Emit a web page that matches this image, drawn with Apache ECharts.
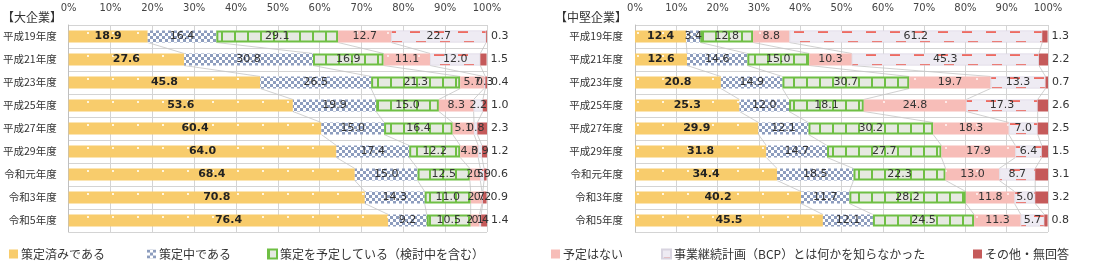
<!DOCTYPE html>
<html><head><meta charset="utf-8">
<script src="https://cdn.jsdelivr.net/npm/echarts@6/dist/echarts.min.js"></script>
<style>html,body{margin:0;padding:0;background:#fff}#c{width:1096px;height:267px}</style>
</head><body><div id="c"></div>
<script>
const categories = ['平成19年度','平成21年度','平成23年度','平成25年度','平成27年度','平成29年度','令和元年度','令和3年度','令和5年度'];
const seriesNames = ['策定済みである','策定中である','策定を予定している（検討中を含む）','予定はない','事業継続計画（BCP）とは何かを知らなかった','その他・無回答'];
const xTicks = [0,10,20,30,40,50,60,70,80,90,100];

// 大企業
const largeDone       = [18.9, 27.6, 45.8, 53.6, 60.4, 64.0, 68.4, 70.8, 76.4];
const largeInProgress = [16.4, 30.8, 26.5, 19.9, 15.0, 17.4, 15.0, 14.3, 9.2];
const largePlanned    = [29.1, 16.9, 21.3, 15.0, 16.4, 12.2, 12.5, 11.0, 10.5];
const largeNone       = [12.7, 11.1, 5.7, 8.3, 5.1, 4.3, 2.5, 2.7, 2.1];
const largeUnknown    = [22.7, 12.0, 0.3, 2.2, 0.8, 0.9, 0.9, 0.2, 0.4];
const largeOther      = [0.3, 1.5, 0.4, 1.0, 2.3, 1.2, 0.6, 0.9, 1.4];

// 中堅企業
const midDone       = [12.4, 12.6, 20.8, 25.3, 29.9, 31.8, 34.4, 40.2, 45.5];
const midInProgress = [3.4, 14.6, 14.9, 12.0, 12.1, 14.7, 18.5, 11.7, 12.1];
const midPlanned    = [12.8, 15.0, 30.7, 18.1, 30.2, 27.7, 22.3, 28.2, 24.5];
const midNone       = [8.8, 10.3, 19.7, 24.8, 18.3, 17.9, 13.0, 11.8, 11.3];
const midUnknown    = [61.2, 45.3, 13.3, 17.3, 7.0, 6.4, 8.7, 5.0, 5.7];
const midOther      = [1.3, 2.2, 0.7, 2.6, 2.5, 1.5, 3.1, 3.2, 0.8];

const largeSets = [largeDone, largeInProgress, largePlanned, largeNone, largeUnknown, largeOther];
const midSets = [midDone, midInProgress, midPlanned, midNone, midUnknown, midOther];

function pattern(w, h, draw) {
  const c = document.createElement('canvas');
  c.width = w; c.height = h;
  draw(c.getContext('2d'));
  return { image: c, repeat: 'repeat' };
}
const yellowPat = pattern(25, 23, g => { g.fillStyle = '#F8CC6C'; g.fillRect(0,0,25,23); g.fillStyle = '#FFF6E0'; g.fillRect(12,9,2,2); });
const checkPat = pattern(6, 6, g => { g.fillStyle = '#FFFFFF'; g.fillRect(0,0,6,6); g.fillStyle = '#8D9DBE'; g.fillRect(0,0,3,3); g.fillRect(3,3,3,3); });
const greenPat = pattern(13, 4, g => { g.fillStyle = '#E6E9E1'; g.fillRect(0,0,13,4); g.fillStyle = '#6FBF44'; g.fillRect(0,0,2,4); });
const pinkPat = pattern(31, 23, g => { g.fillStyle = '#F7BDB8'; g.fillRect(0,0,31,23); g.fillStyle = '#FDE9E7'; g.fillRect(15,9,2,2); });
const lavPat = pattern(24, 23, g => { g.fillStyle = '#EEEBF3'; g.fillRect(0,0,24,23); g.fillStyle = '#EE6A60'; g.fillRect(2,8,10,2); g.fillRect(8,18,10,2); });
const fills = [yellowPat, checkPat, greenPat, pinkPat, lavPat, '#C55A5A'];
const borders = [null, null, {borderColor:'#6FBF44', borderWidth:2}, null, {borderColor:'#D8D4E0', borderWidth:0.6}, null];

const numFont = 'DejaVu Sans';
const BARW = 12;

function buildSeries(sets, idx) {
  const out = [];
  sets.forEach((arr, k) => {
    const isLast = k === sets.length - 1;
    out.push({
      name: seriesNames[k], type: 'bar', stack: 's' + idx,
      xAxisIndex: idx, yAxisIndex: idx, barWidth: BARW, z: 3,
      itemStyle: Object.assign({ color: fills[k] }, borders[k] || {}),
      label: {
        show: true,
        position: isLast ? 'right' : 'inside',
        distance: 4,
        fontFamily: numFont, fontSize: 11,
        fontWeight: k === 0 ? 'bold' : 'normal',
        color: k === 0 ? '#222' : '#333',
        formatter: p => p.value.toFixed(1)
      },
      data: arr
    });
  });
  // series lines (connectors between consecutive bars)
  const lineData = [];
  for (let k = 1; k < sets.length; k++) {
    for (let i = 0; i < categories.length - 1; i++) {
      let c0 = 0, c1 = 0;
      for (let j = 0; j < k; j++) { c0 += sets[j][i]; c1 += sets[j][i + 1]; }
      lineData.push([c0, i, c1]);
    }
  }
  out.push({
    type: 'custom', xAxisIndex: idx, yAxisIndex: idx, silent: true, z: 2,
    encode: { x: [0, 2], y: 1 },
    renderItem: (params, api) => {
      const i = api.value(1);
      const p0 = api.coord([api.value(0), i]);
      const p1 = api.coord([api.value(2), i + 1]);
      return { type: 'line', shape: { x1: p0[0], y1: p0[1] + BARW/2, x2: p1[0], y2: p1[1] - BARW/2 },
               style: { stroke: '#C4C4C4', lineWidth: 0.8 } };
    },
    data: lineData
  });
  return out;
}

function xAxis(idx) {
  return {
    gridIndex: idx, type: 'value', position: 'top', min: 0, max: 100, interval: 10,
    axisLine: { show: false }, axisTick: { show: false },
    splitLine: { show: true, lineStyle: { color: '#D4D4D4', width: 1 } },
    axisLabel: { margin: 12, fontFamily: numFont, fontSize: 10, color: '#444', formatter: v => xTicks.includes(v) ? v + '%' : '' }
  };
}
function yAxis(idx) {
  return {
    gridIndex: idx, type: 'category', inverse: true, data: categories,
    axisLine: { show: true, lineStyle: { color: '#BFBFBF' } }, axisTick: { show: false },
    splitLine: { show: true, lineStyle: { color: '#D4D4D4', width: 1 } },
    axisLabel: { margin: 12, fontFamily: 'Noto Sans CJK JP', fontSize: 10.5, color: '#333' }
  };
}

const legendLefts = [4, 142, 262, 546, 656, 968];
const legends = seriesNames.map((n, k) => ({
  data: [n], left: legendLefts[k], top: 243, icon: 'rect', itemWidth: 9, itemHeight: 9, itemGap: 3,
  textStyle: { fontFamily: 'Noto Sans CJK JP', fontSize: 12, color: '#333', padding: [0,0,0,-2] },
  selectedMode: false
}));

const option = {
  animation: false,
  backgroundColor: '#fff',
  textStyle: { fontFamily: 'Noto Sans CJK JP' },
  title: [
    { text: '【大企業】', left: -3, top: 6, textStyle: { fontSize: 12, fontWeight: 'normal', color: '#333', fontFamily: 'Noto Sans CJK JP' } },
    { text: '【中堅企業】', left: 550, top: 6, textStyle: { fontSize: 12, fontWeight: 'normal', color: '#333', fontFamily: 'Noto Sans CJK JP' } }
  ],
  legend: legends,
  grid: [
    { left: 67, right: 1096 - 487, top: 25, bottom: 35, containLabel: false },
    { left: 635, right: 1096 - 1048, top: 25, bottom: 35, containLabel: false }
  ],
  xAxis: [xAxis(0), xAxis(1)],
  yAxis: [yAxis(0), yAxis(1)],
  series: buildSeries(largeSets, 0).concat(buildSeries(midSets, 1))
};
echarts.init(document.getElementById('c'), null, { renderer: 'canvas' }).setOption(option);
</script>
</body></html>
